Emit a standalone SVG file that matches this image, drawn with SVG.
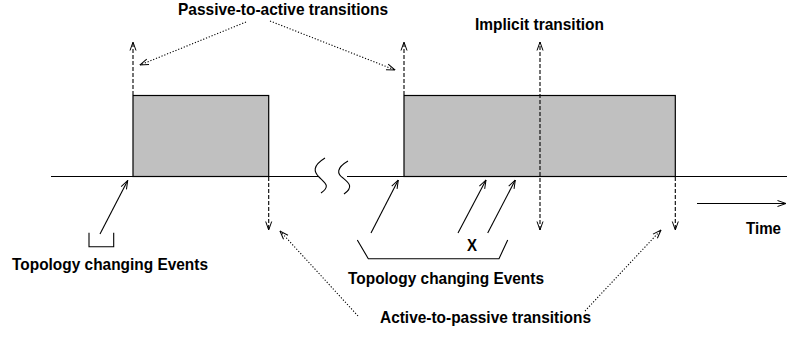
<svg xmlns="http://www.w3.org/2000/svg" width="787" height="343" viewBox="0 0 787 343">
  <style>
    .lbl { font-family: "Liberation Sans", Arial, sans-serif; font-weight: bold; font-size: 17px; fill: #000; }
    .box { fill: #c0c0c0; stroke: #000; stroke-width: 1.2; }
    .axis { fill: none; stroke: #000; stroke-width: 1.2; }
    .solid { fill: none; stroke: #000; stroke-width: 1.1; marker-end: url(#head); }
    .dash { fill: none; stroke: #000; stroke-width: 1.1; stroke-dasharray: 4 2; marker-end: url(#head); }
    .dot { fill: none; stroke: #000; stroke-width: 1.1; stroke-dasharray: 1.2 1.8; marker-end: url(#head); }
    .brk { fill: none; stroke: #000; stroke-width: 1.1; }
  </style>
  <defs>
    <marker id="head" viewBox="0 0 10 10" refX="9.5" refY="5" markerWidth="10" markerHeight="10" markerUnits="userSpaceOnUse" orient="auto-start-reverse">
      <path d="M1,2 L9.5,5 L1,8" fill="none" stroke="#000" stroke-width="1"/>
    </marker>
  </defs>

  <!-- time axis with a break -->
  <g id="axis">
    <path class="axis" d="M51,176.5 H318"/>
    <path class="axis" d="M347,176.5 H787"/>
    <path class="brk" d="M325,158 C312,166 314,172 319,177 C325,183 331,186 321,193"/>
    <path class="brk" d="M348,161 C336,168 337,174 343,178 C349,183 354,187 344,194"/>
  </g>

  <!-- active periods -->
  <g id="period1">
    <rect class="box" x="133" y="95.5" width="135.7" height="81"/>
  </g>
  <g id="period2">
    <rect class="box" x="404" y="95.5" width="271.3" height="81"/>
  </g>

  <g id="connectors">
    <!-- passive-to-active transitions -->
    <path class="dash" d="M133,95 V42"/>
    <path class="dash" d="M404,95 V42"/>
    <!-- implicit transition (both directions) -->
    <path class="dash" d="M540,230 V42" marker-start="url(#head)"/>
    <!-- active-to-passive transitions -->
    <path class="dash" d="M268.7,177 V230"/>
    <path class="dash" d="M675.3,177 V230"/>
    <!-- label pointers -->
    <path class="dot" d="M246,22 L140,65"/>
    <path class="dot" d="M270,21 L395,70"/>
    <path class="dot" d="M358,316 L280,231"/>
    <path class="dot" d="M585,311 L661,230"/>
    <!-- topology changing events -->
    <path class="solid" d="M100,234 L127.7,180.5"/>
    <path class="solid" d="M371,233 L398.3,180"/>
    <path class="solid" d="M458,233 L486,180"/>
    <path class="solid" d="M487.7,233 L515.3,180"/>
    <!-- time -->
    <path class="solid" d="M697,203.5 H786"/>
  </g>

  <!-- event groupings -->
  <g id="bracket-left">
    <path class="brk" d="M89,232.7 V246.7 H113.7 V232.7"/>
  </g>
  <g id="bracket-middle">
    <path class="brk" d="M357.3,240 L368.3,258.7 H499 L507.7,240"/>
  </g>

  <g id="labels">
    <text class="lbl" x="178" y="15" textLength="210" lengthAdjust="spacingAndGlyphs">Passive-to-active transitions</text>
    <text class="lbl" x="475" y="30" textLength="129" lengthAdjust="spacingAndGlyphs">Implicit transition</text>
    <text class="lbl" x="12" y="270" textLength="196" lengthAdjust="spacingAndGlyphs">Topology changing Events</text>
    <text class="lbl" x="348" y="284" textLength="196" lengthAdjust="spacingAndGlyphs">Topology changing Events</text>
    <text class="lbl" x="380" y="323" textLength="211" lengthAdjust="spacingAndGlyphs">Active-to-passive transitions</text>
    <text class="lbl" x="746" y="234" textLength="35" lengthAdjust="spacingAndGlyphs">Time</text>
    <text class="lbl" x="467" y="251" textLength="10" lengthAdjust="spacingAndGlyphs">X</text>
  </g>
</svg>
